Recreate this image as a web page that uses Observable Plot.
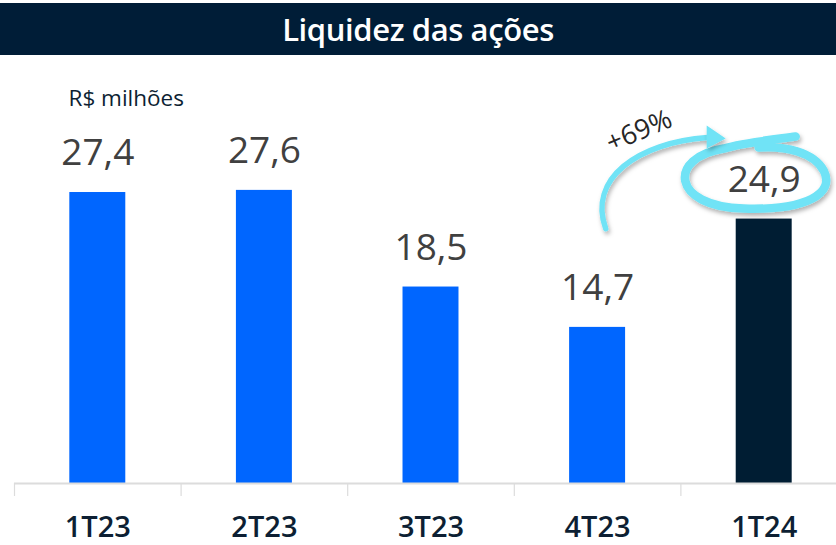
<!DOCTYPE html>
<html>
<head>
<meta charset="utf-8">
<script src="https://cdn.jsdelivr.net/npm/d3@7"></script>
<script src="https://cdn.jsdelivr.net/npm/@observablehq/plot@0.6"></script>
<style>
  html, body { margin: 0; padding: 0; background: #ffffff; }
  #wrap { width: 836px; height: 545px; overflow: hidden; position: relative; }
  #title {
    margin-top: 3px; height: 52px; background: #001d37; color: #ffffff;
    font-family: "Open Sans", sans-serif; font-size: 31px; font-weight: 600;
    text-align: center; line-height: 52px; letter-spacing: -0.4px;
  }
  svg { display: block; }
</style>
</head>
<body>
<div id="wrap">
  <div id="title"></div>
  <div id="chart"></div>
</div>
<script>
const title = "Liquidez das ações";
const unitLabel = "R$ milhões";
const quarters = ["1T23", "2T23", "3T23", "4T23", "1T24"];
const values = [27.4, 27.6, 18.5, 14.7, 24.9];
const growthLabel = "+69%";
const highlight = "1T24";

document.getElementById("title").textContent = title;

const data = quarters.map((q, i) => ({q, v: values[i]}));
const fmt = v => v.toFixed(1).replace(".", ",");

const W = 836, H = 490;
const xRange = [14, 847];
const step = (xRange[1] - xRange[0]) / quarters.length;
const font = "'Open Sans', sans-serif";

const chart = Plot.plot({
  width: W,
  height: H,
  marginTop: 109.4,
  marginBottom: 62,
  marginLeft: 14,
  marginRight: 0,
  style: {fontFamily: font, background: "#ffffff", overflow: "visible"},
  x: {domain: quarters, range: xRange, paddingInner: 0.664, paddingOuter: 0.332, round: false, label: null},
  y: {domain: [0, 30], axis: null},
  marks: [
    Plot.barY(data, {x: "q", y: "v", fill: d => d.q === highlight ? "#001d33" : "#0066ff"}),
    Plot.ruleY([0], {stroke: "#dcdcdc", strokeWidth: 2}),
    Plot.ruleX(quarters, {x: d => d, dx: -step / 2, y1: 0, y2: 0, insetBottom: -13, stroke: "#dcdcdc", strokeWidth: 1.2}),
    Plot.axisX({tickSize: 0, tickPadding: 33, fontSize: 29, fontWeight: 600, color: "#0d1f33", fontFamily: font}),
    Plot.text(data, {x: "q", y: "v", text: d => fmt(d.v), dy: -39, fontSize: 37, fill: "#404040", fontFamily: font}),
    Plot.text([unitLabel], {frameAnchor: "top-left", text: d => d, dx: 54, dy: -75, textAnchor: "start", fontSize: 22.5, fill: "#0d1f33", fontFamily: font})
  ]
});

document.getElementById("chart").appendChild(chart);

// Annotation anchored to the highlighted bar via the chart's scales
const xs = chart.scale("x"), ys = chart.scale("y");
const hx = xs.apply(highlight) + xs.bandwidth / 2;
const hy = ys.apply(values[quarters.indexOf(highlight)]);
const svg = d3.select(chart);
const cyan = "#6fe3f6";

const defs = svg.append("defs");
const f = defs.append("filter").attr("id", "shadow").attr("x", "-20%").attr("y", "-20%").attr("width", "140%").attr("height", "160%");
f.append("feDropShadow").attr("dx", 1.5).attr("dy", 3).attr("stdDeviation", 2).attr("flood-color", "#000").attr("flood-opacity", 0.3);

const g = svg.append("g").attr("transform", `translate(${hx},${hy})`);

// hand-drawn ellipse around the highlighted value
g.append("path")
  .attr("d", "M 32,-82 C 10,-79 -20,-76 -40,-70 C -96,-61 -93,-12 -20,-10 C 42,-8 72,-25 60,-48 C 50,-66 22,-73 -5,-71")
  .attr("fill", "none").attr("stroke", cyan).attr("stroke-width", 8.5)
  .attr("stroke-linecap", "round").attr("filter", "url(#shadow)");

// curved arrow
g.append("path")
  .attr("d", "M -158,10 C -176,-40 -126,-76 -56,-81")
  .attr("fill", "none").attr("stroke", cyan).attr("stroke-width", 5.5)
  .attr("stroke-linecap", "round").attr("filter", "url(#shadow)");
g.append("path")
  .attr("d", "M -38,-80 L -57,-93 L -57,-70 Z")
  .attr("fill", cyan).attr("filter", "url(#shadow)");

g.append("text")
  .attr("transform", "translate(-124,-86) rotate(-23)")
  .attr("text-anchor", "middle").attr("dominant-baseline", "middle")
  .attr("font-family", font).attr("font-size", 27).attr("fill", "#262626")
  .text(growthLabel);

// bring value labels above the ellipse
svg.selectAll("g[aria-label='text']").raise();
</script>
</body>
</html>
